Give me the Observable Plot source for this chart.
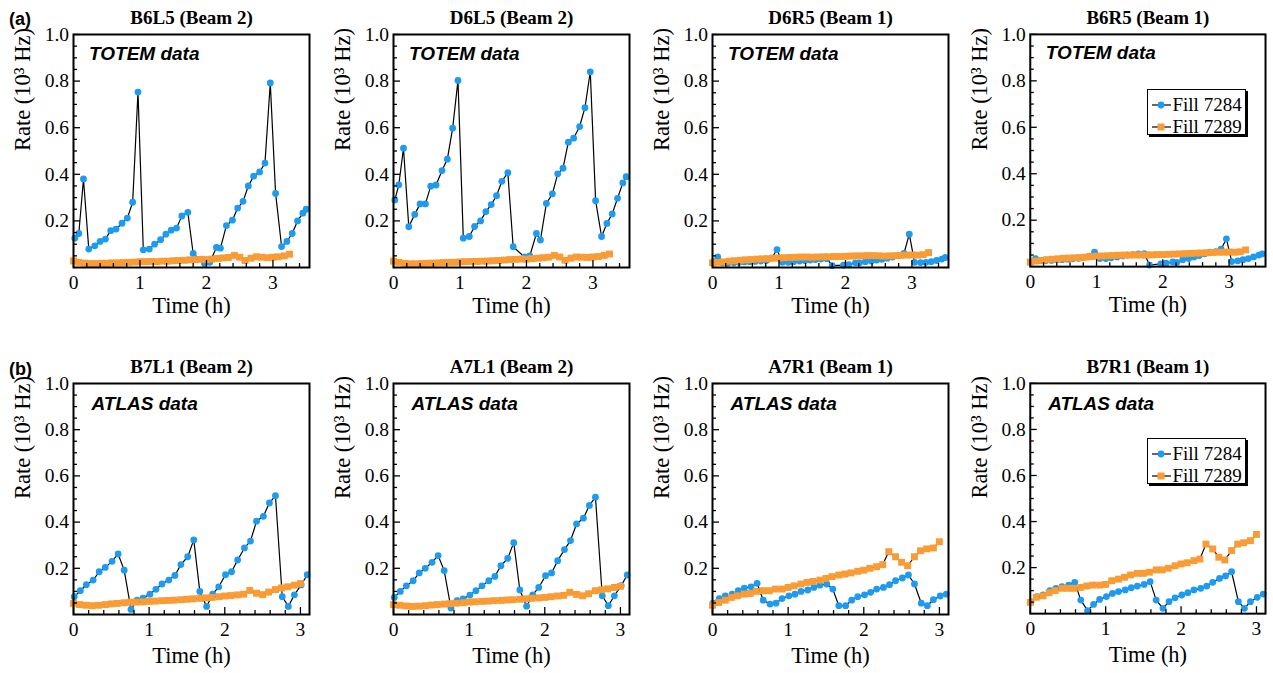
<!DOCTYPE html>
<html>
<head>
<meta charset="utf-8">
<script src="https://cdn.jsdelivr.net/npm/d3@7"></script>
<script src="https://cdn.jsdelivr.net/npm/@observablehq/plot@0.6"></script>
<style>
  html, body { margin: 0; padding: 0; background: #fff; overflow: hidden; }
  #root { position: relative; width: 1273px; height: 673px; background: #fff; }
  .panel { position: absolute; }
  .tag { position: absolute; font-family: "Liberation Sans", Arial, sans-serif; font-weight: bold; font-size: 18px; line-height: 1; }
  .legend { position: absolute; width: 97px; height: 44px; background: #fff; border: 1px solid #000; box-shadow: 2px 2px 0 #000; font-family: "Liberation Serif", serif; font-size: 19px; }
  .legend .row { position: absolute; left: 3px; height: 20px; display: flex; align-items: center; white-space: nowrap; }
  .legend svg { margin-right: 1px; }
</style>
</head>
<body>
<div id="root"></div>
<script>
// ---------- data ----------
const fills = ["Fill 7284", "Fill 7289"];
const BLUE = "#1c9bf0";
const ORANGE = "#f99c35";

// time grids (h)
const tTop7284 = [0.02,0.08,0.15,0.23,0.32,0.40,0.48,0.56,0.64,0.73,0.81,0.89,0.97,1.05,1.14,1.22,1.31,1.39,1.47,1.55,1.63,1.72,1.80,1.97,2.05,2.15,2.21,2.30,2.39,2.47,2.55,2.63,2.71,2.80,2.88,2.96,3.04,3.13,3.21,3.29,3.37,3.45,3.50];
const tTop7289 = [0,0.08,0.17,0.25,0.33,0.42,0.5,0.58,0.67,0.75,0.83,0.92,1,1.08,1.17,1.25,1.33,1.42,1.5,1.58,1.67,1.75,1.83,1.92,2,2.08,2.17,2.25,2.33,2.42,2.5,2.58,2.67,2.75,2.83,2.92,3,3.08,3.17,3.25];
const tBot7284 = [0.01,0.09,0.17,0.26,0.34,0.42,0.51,0.59,0.67,0.76,0.84,0.92,1.01,1.09,1.17,1.26,1.34,1.42,1.51,1.59,1.67,1.76,1.84,1.92,2.01,2.09,2.17,2.26,2.34,2.42,2.51,2.59,2.67,2.76,2.84,2.92,3.01,3.09];
const tBot7289 = [0,0.08,0.17,0.25,0.33,0.42,0.5,0.58,0.67,0.75,0.83,0.92,1,1.08,1.17,1.25,1.33,1.42,1.5,1.58,1.67,1.75,1.83,1.92,2,2.08,2.17,2.25,2.33,2.42,2.5,2.58,2.67,2.75,2.83,2.92,3];

// TOTEM (row a)
const B6L5_7284 = [0.126,0.146,0.38,0.079,0.093,0.112,0.122,0.158,0.165,0.19,0.212,0.28,0.753,0.076,0.079,0.10,0.119,0.143,0.16,0.169,0.221,0.237,0.06,0.017,0.022,0.086,0.083,0.18,0.203,0.255,0.284,0.35,0.392,0.41,0.448,0.792,0.318,0.09,0.112,0.146,0.2,0.233,0.25];
const B6L5_7289 = [0.028,0.022,0.019,0.017,0.017,0.018,0.018,0.02,0.02,0.021,0.022,0.023,0.025,0.025,0.026,0.025,0.027,0.027,0.029,0.03,0.031,0.033,0.034,0.035,0.034,0.036,0.039,0.041,0.043,0.052,0.044,0.03,0.04,0.046,0.044,0.042,0.044,0.046,0.05,0.057];
const D6L5_7284 = [0.29,0.355,0.512,0.175,0.228,0.273,0.273,0.349,0.354,0.416,0.465,0.598,0.803,0.126,0.133,0.176,0.20,0.24,0.27,0.308,0.37,0.407,0.089,0.045,0.05,0.146,0.118,0.275,0.316,0.402,0.426,0.538,0.555,0.605,0.686,0.84,0.287,0.133,0.189,0.23,0.297,0.363,0.39];
const D6L5_7289 = [0.027,0.022,0.018,0.016,0.016,0.017,0.018,0.019,0.02,0.021,0.022,0.022,0.024,0.025,0.026,0.026,0.027,0.028,0.029,0.03,0.032,0.034,0.035,0.036,0.036,0.038,0.04,0.042,0.044,0.052,0.045,0.031,0.04,0.045,0.044,0.043,0.045,0.047,0.052,0.058];
const D6R5_7284 = [0.025,0.045,0.02,0.018,0.02,0.022,0.024,0.025,0.026,0.028,0.03,0.04,0.077,0.022,0.022,0.025,0.028,0.03,0.032,0.034,0.036,0.038,0.008,0.01,0.012,0.02,0.02,0.025,0.028,0.032,0.035,0.04,0.045,0.05,0.06,0.143,0.022,0.021,0.022,0.025,0.03,0.036,0.043];
const D6R5_7289 = [0.02,0.022,0.024,0.027,0.029,0.031,0.033,0.034,0.036,0.037,0.038,0.04,0.041,0.042,0.043,0.044,0.045,0.045,0.044,0.045,0.046,0.046,0.047,0.047,0.048,0.049,0.05,0.05,0.051,0.051,0.05,0.049,0.05,0.051,0.052,0.053,0.054,0.053,0.055,0.064];
const B6R5_7284 = [0.02,0.035,0.025,0.025,0.027,0.03,0.03,0.032,0.034,0.036,0.04,0.045,0.062,0.035,0.035,0.038,0.042,0.046,0.05,0.052,0.055,0.056,0.007,0.012,0.015,0.02,0.018,0.03,0.035,0.042,0.048,0.055,0.062,0.065,0.075,0.12,0.022,0.025,0.03,0.035,0.042,0.05,0.055];
const B6R5_7289 = [0.02,0.024,0.027,0.03,0.032,0.034,0.036,0.037,0.038,0.039,0.041,0.043,0.045,0.046,0.047,0.048,0.049,0.05,0.05,0.05,0.05,0.05,0.051,0.052,0.052,0.053,0.054,0.055,0.056,0.057,0.058,0.059,0.06,0.061,0.062,0.062,0.063,0.062,0.064,0.072];

// ATLAS (row b)
const B7L1_7284 = [0.077,0.103,0.129,0.149,0.185,0.204,0.23,0.262,0.192,0.022,0.062,0.071,0.088,0.109,0.132,0.149,0.169,0.216,0.25,0.323,0.10,0.035,0.088,0.12,0.172,0.185,0.236,0.288,0.318,0.404,0.425,0.483,0.514,0.077,0.035,0.085,0.128,0.172];
const B7L1_7289 = [0.048,0.043,0.04,0.038,0.04,0.043,0.046,0.048,0.051,0.053,0.054,0.055,0.057,0.058,0.06,0.061,0.062,0.064,0.066,0.068,0.07,0.072,0.074,0.077,0.08,0.082,0.085,0.088,0.104,0.092,0.086,0.097,0.108,0.115,0.12,0.127,0.134];
const A7L1_7284 = [0.074,0.1,0.124,0.146,0.18,0.2,0.226,0.255,0.19,0.028,0.06,0.067,0.084,0.103,0.124,0.146,0.165,0.211,0.243,0.311,0.106,0.036,0.085,0.117,0.168,0.18,0.233,0.281,0.32,0.392,0.417,0.472,0.508,0.081,0.038,0.081,0.125,0.171];
const A7L1_7289 = [0.043,0.04,0.037,0.035,0.036,0.038,0.041,0.043,0.045,0.047,0.049,0.051,0.054,0.055,0.057,0.058,0.06,0.061,0.063,0.064,0.066,0.068,0.07,0.072,0.074,0.077,0.08,0.083,0.096,0.087,0.081,0.09,0.103,0.107,0.111,0.117,0.122];
const A7R1_7284 = [0.049,0.069,0.081,0.088,0.103,0.114,0.12,0.135,0.062,0.045,0.049,0.069,0.081,0.088,0.1,0.106,0.117,0.127,0.132,0.11,0.038,0.038,0.062,0.077,0.085,0.096,0.11,0.117,0.129,0.146,0.158,0.171,0.132,0.049,0.038,0.064,0.08,0.088];
const A7R1_7289 = [0.04,0.052,0.062,0.074,0.081,0.088,0.091,0.1,0.103,0.103,0.11,0.11,0.117,0.124,0.132,0.139,0.143,0.149,0.156,0.164,0.171,0.175,0.18,0.187,0.192,0.2,0.207,0.216,0.272,0.25,0.226,0.211,0.25,0.276,0.284,0.288,0.315];
const B7R1_7284 = [0.052,0.074,0.081,0.1,0.11,0.117,0.124,0.136,0.059,0.013,0.04,0.062,0.074,0.088,0.096,0.103,0.113,0.12,0.127,0.139,0.059,0.023,0.052,0.069,0.081,0.091,0.103,0.11,0.12,0.136,0.153,0.164,0.182,0.052,0.023,0.052,0.071,0.085];
const B7R1_7289 = [0.049,0.071,0.077,0.091,0.1,0.11,0.11,0.11,0.114,0.12,0.124,0.124,0.127,0.143,0.15,0.158,0.168,0.175,0.175,0.18,0.19,0.19,0.197,0.208,0.216,0.221,0.23,0.237,0.302,0.281,0.245,0.233,0.274,0.302,0.308,0.317,0.344];

// ticks & labels
const yMajor = [0.2, 0.4, 0.6, 0.8, 1.0];
const yMinor = [0.05,0.1,0.15,0.25,0.3,0.35,0.45,0.5,0.55,0.65,0.7,0.75,0.85,0.9,0.95];
const xMajor = [0, 1, 2, 3];
const xMinorTop = [0.2,0.4,0.6,0.8,1.2,1.4,1.6,1.8,2.2,2.4,2.6,2.8,3.2,3.4];
const xMinorBot = [0.2,0.4,0.6,0.8,1.2,1.4,1.6,1.8,2.2,2.4,2.6,2.8];
const yLabel = "Rate (10³ Hz)";
const xLabel = "Time (h)";

const rowsSpec = [
  {tag: "(a)", tagTop: 10, top: 0, height: 320, mb: 53, xmax: 3.55, t1: tTop7284, t2: tTop7289, minor: xMinorTop,
   label: "TOTEM data", ldx: 15.5, ldy: 19, xlabDy: 38.5,
   panels: [["B6L5 (Beam 2)", B6L5_7284, B6L5_7289], ["D6L5 (Beam 2)", D6L5_7284, D6L5_7289],
            ["D6R5 (Beam 1)", D6R5_7284, D6R5_7289], ["B6R5 (Beam 1)", B6R5_7284, B6R5_7289]]},
  {tag: "(b)", tagTop: 360, top: 349, height: 324, mb: 59, xmax: 3.12, t1: tBot7284, t2: tBot7289, minor: xMinorBot,
   label: "ATLAS data", ldx: 18, ldy: 20.5, xlabDy: 41.5,
   panels: [["B7L1 (Beam 2)", B7L1_7284, B7L1_7289], ["A7L1 (Beam 2)", A7L1_7284, A7L1_7289],
            ["A7R1 (Beam 1)", A7R1_7284, A7R1_7289], ["B7R1 (Beam 1)", B7R1_7284, B7R1_7289]]}
];
const panelLefts = [0, 320, 639, 957];

const root = document.getElementById("root");
const none = () => "";

rowsSpec.forEach(row => {
  const tag = document.createElement("div");
  tag.className = "tag";
  tag.style.left = "9px";
  tag.style.top = row.tagTop + "px";
  tag.textContent = row.tag;
  root.appendChild(tag);

  row.panels.forEach(([title, v1, v2], pi) => {
    const s1 = row.t1.map((t, i) => ({t, v: v1[i], fill: fills[0]}));
    const s2 = row.t2.map((t, i) => ({t, v: v2[i], fill: fills[1]}));
    const chart = Plot.plot({
      width: 317, height: row.height,
      marginLeft: 73, marginRight: 8, marginTop: 34, marginBottom: row.mb,
      x: {domain: [0, row.xmax]},
      y: {domain: [0, 1]},
      style: {fontFamily: "'Liberation Serif', 'Times New Roman', serif", fontSize: "19px", color: "#000", background: "transparent", overflow: "visible"},
      marks: [
        Plot.line(s1, {x: "t", y: "v", stroke: "#000", strokeWidth: 1.2}),
        Plot.dot(s1, {x: "t", y: "v", r: 3.4, fill: BLUE, stroke: "none"}),
        Plot.line(s2, {x: "t", y: "v", stroke: "#000", strokeWidth: 1.2}),
        Plot.dot(s2, {x: "t", y: "v", r: 3.9, symbol: "square", fill: ORANGE, stroke: "none"}),
        Plot.axisY({ticks: yMajor, tickFormat: d3.format(".1f"), tickSize: 0, tickPadding: 4.5, label: null, fontSize: 19.5}),
        Plot.axisY({ticks: yMajor, tickFormat: none, tickSize: -7, label: null, strokeWidth: 1.3}),
        Plot.axisY({ticks: yMinor, tickFormat: none, tickSize: -4, label: null, strokeWidth: 1.3}),
        Plot.axisX({ticks: xMajor, tickFormat: d3.format("d"), tickSize: 0, tickPadding: 7.5, label: null, fontSize: 19.5}),
        Plot.axisX({ticks: xMajor, tickFormat: none, tickSize: -7, label: null, strokeWidth: 1.3}),
        Plot.axisX({ticks: row.minor, tickFormat: none, tickSize: -4, label: null, strokeWidth: 1.3}),
        Plot.frame({stroke: "#000", strokeWidth: 2}),
        Plot.text([title], {text: d => d, frameAnchor: "top", dy: -10.5, lineAnchor: "bottom", fontWeight: "bold", fontSize: 19}),
        Plot.text([row.label], {text: d => d, frameAnchor: "top-left", dx: row.ldx, dy: row.ldy, textAnchor: "start", lineAnchor: "middle",
          fontFamily: "'Liberation Sans', Arial, sans-serif", fontStyle: "italic", fontWeight: "bold", fontSize: 19}),
        Plot.text([yLabel], {text: d => d, frameAnchor: "left", dx: -51, rotate: -90, lineAnchor: "middle", fontSize: 22.5}),
        Plot.text([xLabel], {text: d => d, frameAnchor: "bottom", dy: row.xlabDy, lineAnchor: "middle", fontSize: 22.5})
      ]
    });
    const div = document.createElement("div");
    div.className = "panel";
    div.style.left = panelLefts[pi] + "px";
    div.style.top = row.top + "px";
    div.appendChild(chart);

    if (pi === 3) {
      const lg = document.createElement("div");
      lg.className = "legend";
      lg.style.left = (73 + 116.5) + "px";
      lg.style.top = (34 + 55) + "px";
      fills.forEach((name, k) => {
        const r = document.createElement("div");
        r.className = "row";
        r.style.top = (k === 0 ? 5 : 27) + "px";
        const sym = k === 0
          ? `<circle cx="10" cy="6" r="3.4" fill="${BLUE}"/>`
          : `<rect x="6.5" y="2.5" width="7" height="7" fill="${ORANGE}"/>`;
        r.innerHTML = `<svg width="21" height="12"><line x1="1" x2="20" y1="6" y2="6" stroke="#000" stroke-width="1.2"/>${sym}</svg><span>${name}</span>`;
        lg.appendChild(r);
      });
      div.appendChild(lg);
    }
    root.appendChild(div);
  });
});
</script>
</body>
</html>
